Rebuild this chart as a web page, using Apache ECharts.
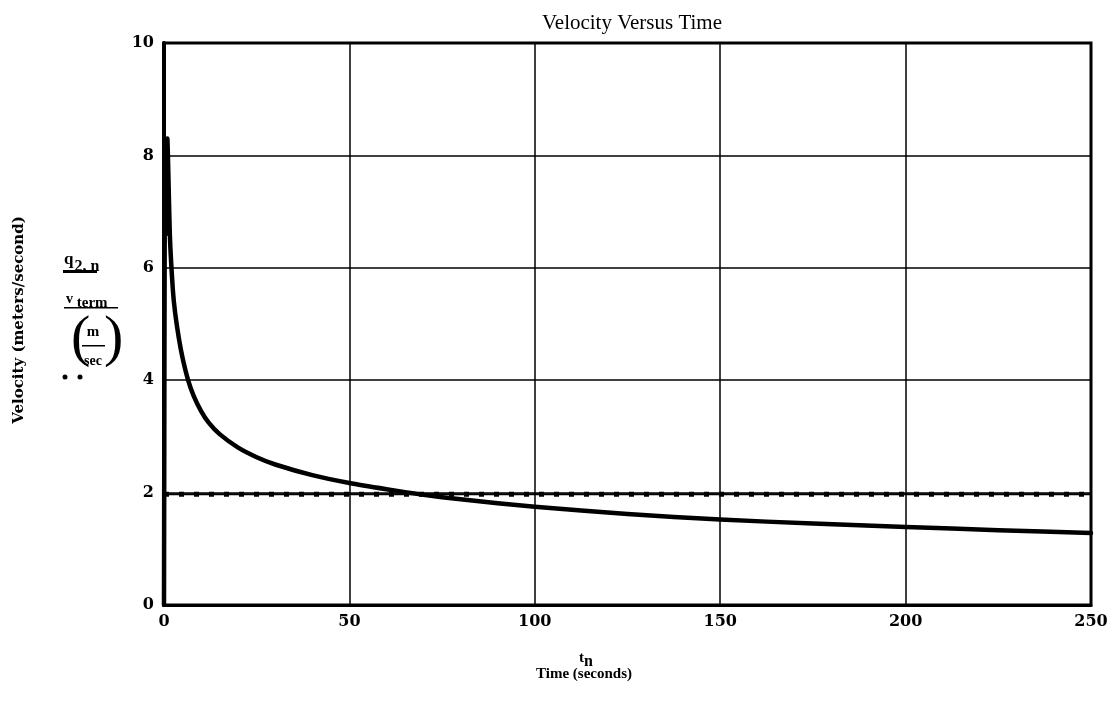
<!DOCTYPE html>
<html>
<head>
<meta charset="utf-8">
<script src="https://cdn.jsdelivr.net/npm/echarts@6/dist/echarts.min.js"></script>
<style>html,body{margin:0;padding:0;background:#fff}#c{width:1117px;height:703px}</style>
</head>
<body>
<div id="c"></div>
<script>
// Data
var timeSec = [0, 0.3, 0.6, 0.9, 1.6, 2.4, 3, 4, 5, 6.5, 8, 10, 12, 15, 20, 25, 30, 40, 50, 60, 70, 80, 90, 100, 125, 150, 175, 200, 225, 250];
var velocity = [0, 8.3, 6.6, 8.3, 6.55, 5.6, 5.2, 4.75, 4.4, 4.0, 3.72, 3.45, 3.25, 3.04, 2.8, 2.63, 2.5, 2.31, 2.17, 2.06, 1.96, 1.88, 1.81, 1.75, 1.62, 1.52, 1.45, 1.39, 1.33, 1.28];
var vTerm = 1.97;
var termX = [0, 250];
var xTicks = [0, 50, 100, 150, 200, 250];
var yTicks = [0, 2, 4, 6, 8, 10];

var curve = timeSec.map(function (t, i) { return [t, velocity[i]]; });
var termLine = termX.map(function (t) { return [t, vTerm]; });

var serif = '"Liberation Serif", "DejaVu Serif", serif';
var wide = '"DejaVu Serif", "Liberation Serif", serif';
var chart = echarts.init(document.getElementById('c'), null, {renderer: 'canvas'});
chart.setOption({
  animation: false,
  backgroundColor: '#fff',
  title: {
    text: 'Velocity Versus Time',
    left: 627, top: 8, textAlign: 'center',
    textStyle: {fontFamily: serif, fontWeight: 'normal', fontSize: 21, color: '#000'}
  },
  grid: {left: 164, right: 26, top: 43, bottom: 98, show: true, borderColor: '#000', borderWidth: 3, backgroundColor: 'transparent'},
  xAxis: {
    type: 'value', min: xTicks[0], max: xTicks[xTicks.length - 1], interval: 50,
    axisLine: {show: true, lineStyle: {color: '#000', width: 3}},
    axisTick: {show: false},
    splitLine: {show: true, lineStyle: {color: '#000', width: 1.5}},
    axisLabel: {color: '#000', fontFamily: wide, fontWeight: 'bold', fontSize: 16, margin: 9}
  },
  yAxis: {
    type: 'value', min: yTicks[0], max: yTicks[yTicks.length - 1], interval: 2,
    axisLine: {show: true, lineStyle: {color: '#000', width: 4}},
    axisTick: {show: false},
    splitLine: {show: true, lineStyle: {color: '#000', width: 1.5}},
    axisLabel: {color: '#000', fontFamily: wide, fontWeight: 'bold', fontSize: 16, margin: 10}
  },
  series: [
    {
      type: 'line', data: termLine, symbol: 'none', silent: true,
      lineStyle: {color: '#000', width: 2, type: 'solid'}, z: 3
    },
    {
      type: 'line', data: termLine, symbol: 'none', silent: true,
      lineStyle: {color: '#000', width: 5, type: [5, 10]}, z: 3
    },
    {
      type: 'line', data: curve, symbol: 'none', silent: true,
      smooth: 0.2,
      lineStyle: {color: '#000', width: 4.5, join: 'round', cap: 'round'}, z: 4
    }
  ],
  graphic: [
    {type: 'text', x: 19, y: 320, rotation: Math.PI / 2, style: {
      text: 'Velocity (meters/second)', x: 0, y: 0, fill: '#000',
      align: 'center', verticalAlign: 'middle',
      font: 'bold 15px ' + wide}},
    {type: 'text', x: 64, y: 245, style: {
      text: '{a|q}{b|2, n}', fill: '#000',
      rich: {a: {font: 'bold 17px ' + serif, fill: '#000'}, b: {font: 'bold 16px ' + serif, fill: '#000', padding: [14, 0, 0, 1]}}}},
    {type: 'rect', shape: {x: 63, y: 270, width: 34, height: 3}, style: {fill: '#000'}},
    {type: 'text', x: 66, y: 288, style: {
      text: '{a|v}{b| term}', fill: '#000',
      rich: {a: {font: 'bold 14px ' + serif, fill: '#000'}, b: {font: 'bold 15px ' + serif, fill: '#000', padding: [8, 0, 0, 0]}}}},
    {type: 'rect', shape: {x: 64, y: 307, width: 54, height: 1.5}, style: {fill: '#000'}},
    {type: 'text', x: 71, y: 311, style: {text: '(', fill: '#000', font: '58px ' + serif}},
    {type: 'text', x: 104, y: 311, style: {text: ')', fill: '#000', font: '58px ' + serif}},
    {type: 'text', x: 93, y: 325, style: {text: 'm', fill: '#000', font: 'bold 15px ' + serif, align: 'center'}},
    {type: 'rect', shape: {x: 82, y: 345, width: 23, height: 1.5}, style: {fill: '#000'}},
    {type: 'text', x: 93, y: 354, style: {text: 'sec', fill: '#000', font: 'bold 14px ' + serif, align: 'center'}},
    {type: 'circle', shape: {cx: 65, cy: 377, r: 2.5}, style: {fill: '#000'}},
    {type: 'circle', shape: {cx: 80, cy: 377, r: 2.5}, style: {fill: '#000'}},
    {type: 'text', x: 586, y: 646, style: {
      text: '{a|t}{b|n}', fill: '#000', align: 'center',
      rich: {a: {font: 'bold 15px ' + serif, fill: '#000'}, b: {font: 'bold 16px ' + serif, fill: '#000', padding: [8, 0, 0, 0]}}}},
    {type: 'text', x: 584, y: 667, style: {text: 'Time (seconds)', fill: '#000', font: 'bold 15px ' + serif, align: 'center'}}
  ]
});
</script>
</body>
</html>
